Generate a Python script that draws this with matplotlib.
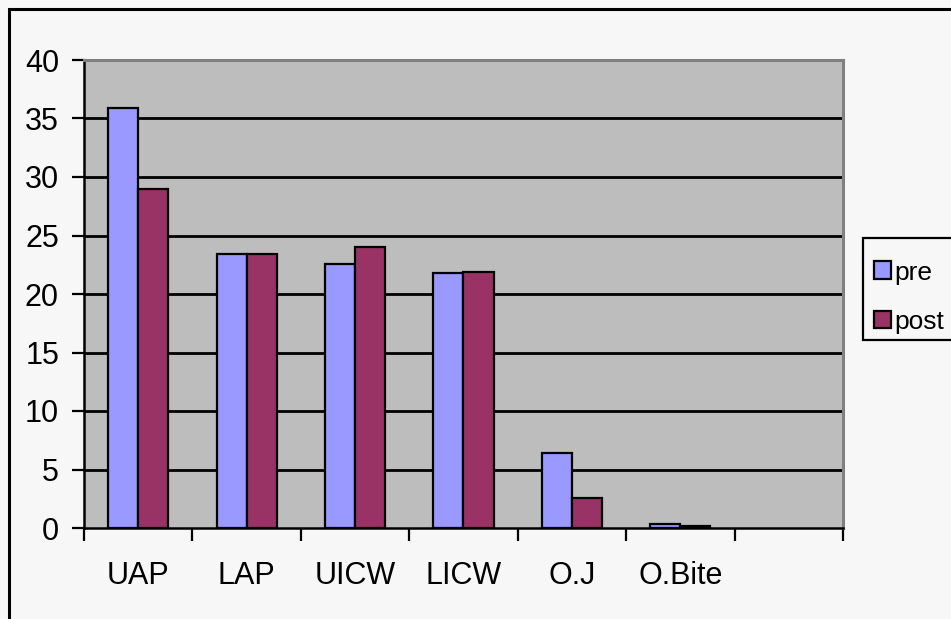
import matplotlib
matplotlib.use("Agg")
import matplotlib.pyplot as plt
from matplotlib.patches import Rectangle
from matplotlib import font_manager
import numpy as np

# Measurements (slot 7 is an empty category)
categories = ["UAP", "LAP", "UICW", "LICW", "O.J", "O.Bite", ""]
pre_values = [35.9, 23.4, 22.6, 21.8, 6.4, 0.35]
post_values = [29.0, 23.4, 24.0, 21.9, 2.6, 0.15]
series_names = ["pre", "post"]
y_ticks = [0, 5, 10, 15, 20, 25, 30, 35, 40]

installed = {f.name for f in font_manager.fontManager.ttflist}
family = "Liberation Sans Narrow" if "Liberation Sans Narrow" in installed else "Liberation Sans"
plt.rcParams["font.family"] = [family, "DejaVu Sans"]

W, H = 951, 619
fig = plt.figure(figsize=(W / 100, H / 100), dpi=100, facecolor="#F7F7F7")

# outer chart frame (runs off the right and bottom edges)
fig.patches.append(Rectangle((9 / W, -0.05), 1.2, (H - 9) / H + 0.05,
                             transform=fig.transFigure, fill=False,
                             edgecolor="black", linewidth=2.2, zorder=-2))

ax = fig.add_axes([84 / W, (H - 528) / H, (843 - 84) / W, (528 - 60) / H])
ax.set_facecolor("#BDBDBD")

n = len(categories)
x = np.arange(len(pre_values)) + 0.5
bw = 0.277
ax.bar(x - bw / 2, pre_values, bw, color="#9999FF", edgecolor="black",
       linewidth=1.6, label=series_names[0], zorder=3)
ax.bar(x + bw / 2, post_values, bw, color="#993366", edgecolor="black",
       linewidth=1.6, label=series_names[1], zorder=3)

ax.set_xlim(0, n)
ax.set_ylim(0, 40)

for v in y_ticks[1:-1]:
    ax.axhline(v, color="black", linewidth=2.0, zorder=1)

ax.set_yticks(y_ticks)
ax.set_yticklabels([str(v) for v in y_ticks], fontsize=22)
ax.tick_params(axis="y", direction="out", length=9, width=1.6, pad=9)

ax.set_xticks(np.arange(n + 1))
ax.set_xticklabels([])
ax.set_xticks(np.arange(n) + 0.5, minor=True)
ax.set_xticklabels(categories, minor=True, fontsize=22)
ax.tick_params(axis="x", which="major", direction="out", length=9, width=1.6)
ax.tick_params(axis="x", which="minor", length=0, pad=24)

for side in ("left", "bottom"):
    ax.spines[side].set_color("black")
    ax.spines[side].set_linewidth(1.8)
for side in ("top", "right"):
    ax.spines[side].set_color("#808080")
    ax.spines[side].set_linewidth(2.2)

# legend box (open to the right edge), drawn beneath the legend entries
fig.patches.append(Rectangle((863 / W, (H - 340) / H), 0.2, 102 / H,
                             transform=fig.transFigure, facecolor="#F7F7F7",
                             edgecolor="black", linewidth=1.6, zorder=-1))

handles, labels = ax.get_legend_handles_labels()
leg = fig.legend(handles, labels, loc="upper left",
                 bbox_to_anchor=(863 / W, (H - 250) / H),
                 bbox_transform=fig.transFigure, fontsize=19, frameon=False,
                 handlelength=0.65, handleheight=0.65, handletextpad=0.15,
                 labelspacing=0.96, borderpad=0.4, borderaxespad=0)

fig.savefig("out.png", dpi=100, facecolor=fig.get_facecolor())
